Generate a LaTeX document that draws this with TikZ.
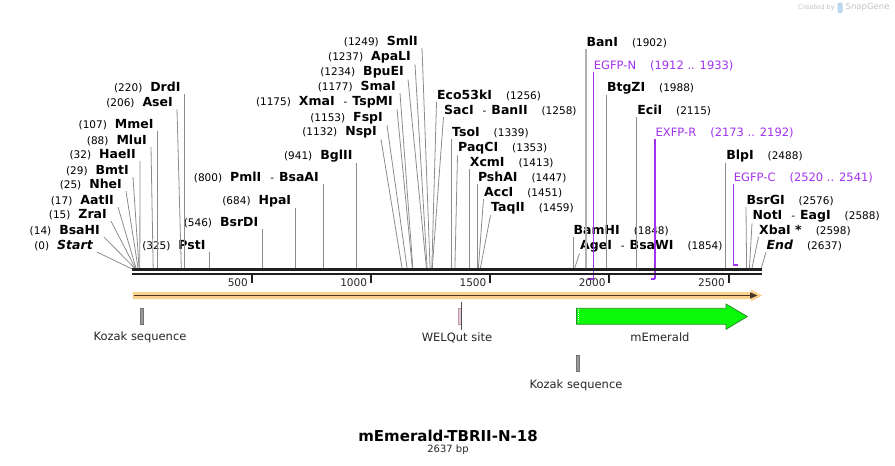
\documentclass[tikz,border=0pt]{standalone}
\usepackage{fontspec}
\setmainfont{DejaVu Sans}
\definecolor{cutgray}{RGB}{140,140,140}
\definecolor{primercol}{RGB}{160,50,240}
\definecolor{bandcol}{RGB}{250,210,140}
\definecolor{banddark}{RGB}{70,55,40}
\definecolor{emerald}{RGB}{10,250,10}
\definecolor{emeraldline}{RGB}{40,140,40}
\definecolor{logogray}{RGB}{190,196,202}
\definecolor{logoblue}{RGB}{185,215,240}
\definecolor{welqfill}{RGB}{230,200,215}
\definecolor{welqline}{RGB}{190,150,170}
\newcommand{\bpn}[1]{{\fontsize{10.5}{12}\selectfont #1}}
\newcommand{\enz}[1]{{\fontsize{12.5}{14}\selectfont\bfseries #1}}
\newcommand{\prm}[1]{{\fontsize{11.5}{13}\selectfont #1}}

\begin{document}
\begin{tikzpicture}[x=1pt, y=-1pt,
	lab/.style={anchor=base east, inner xsep=4pt, inner ysep=1.5pt, text=black},
	rlab/.style={anchor=base west, inner xsep=0.5pt, inner ysep=1.5pt, text=black},
	plab/.style={anchor=base west, inner xsep=0.5pt, inner ysep=1.5pt, text=primercol},
	cutline/.style={draw=cutgray, line width=0.8pt},
	primer/.style={draw=primercol, line width=1.1pt},
	primerbar/.style={draw=primercol, line width=2.2pt},
	backbone/.style={draw=black!88, line width=2.6pt},
	tick/.style={draw=black!88, line width=2pt},
	ticklab/.style={anchor=base east, inner sep=0pt, text=black!85, font=\fontsize{10.5}{12}\selectfont},
	featlab/.style={inner sep=0pt, text=black!85, font=\fontsize{11.5}{13}\selectfont}]

	\useasboundingbox (0,0) rectangle (895,466);

	% cut sites on the backbone
	\coordinate (s0) at (132.2,269);
	\coordinate (s14) at (135.5,269);
	\coordinate (s15) at (135.8,269);
	\coordinate (s17) at (136.3,269);
	\coordinate (s25) at (138.2,269);
	\coordinate (s29) at (139.1,269);
	\coordinate (s32) at (139.8,269);
	\coordinate (s88) at (153.2,269);
	\coordinate (s107) at (157.7,269);
	\coordinate (s206) at (181.3,269);
	\coordinate (s220) at (184.7,269);
	\coordinate (s325) at (209.7,269);
	\coordinate (s546) at (262.4,269);
	\coordinate (s684) at (295.3,269);
	\coordinate (s800) at (323.0,269);
	\coordinate (s941) at (356.6,269);
	\coordinate (s1132) at (402.2,269);
	\coordinate (s1153) at (407.2,269);
	\coordinate (s1175) at (412.4,269);
	\coordinate (s1177) at (412.9,269);
	\coordinate (s1234) at (426.5,269);
	\coordinate (s1237) at (427.2,269);
	\coordinate (s1249) at (430.1,269);
	\coordinate (s1256) at (431.8,269);
	\coordinate (s1258) at (432.2,269);
	\coordinate (s1339) at (451.5,269);
	\coordinate (s1353) at (454.9,269);
	\coordinate (s1413) at (469.2,269);
	\coordinate (s1447) at (477.3,269);
	\coordinate (s1451) at (478.3,269);
	\coordinate (s1459) at (480.2,269);
	\coordinate (s1848) at (573.0,269);
	\coordinate (s1854) at (574.4,269);
	\coordinate (s1902) at (585.8,269);
	\coordinate (s1988) at (606.3,269);
	\coordinate (s2115) at (636.6,269);
	\coordinate (s2488) at (725.6,269);
	\coordinate (s2576) at (746.6,269);
	\coordinate (s2588) at (749.4,269);
	\coordinate (s2598) at (751.8,269);
	\coordinate (s2637) at (761.1,269);

	% primer ends
	\coordinate (p1912) at (588.2,279);
	\coordinate (p1933) at (593.2,279);
	\coordinate (p2173) at (650.5,279);
	\coordinate (p2192) at (655.0,279);
	\coordinate (p2520) at (733.2,265);
	\coordinate (p2541) at (738.2,265);

	% enzymes, left side
	\node[lab] (Start) at (97,249) {\bpn{(0)}\hspace{8pt}\enz{\itshape Start}};
	\node[lab] (BsaHI) at (104,234) {\bpn{(14)}\hspace{8pt}\enz{BsaHI}};
	\node[lab] (ZraI) at (111,218) {\bpn{(15)}\hspace{8pt}\enz{ZraI}};
	\node[lab] (AatII) at (118,204) {\bpn{(17)}\hspace{8pt}\enz{AatII}};
	\node[lab] (NheI) at (126,188) {\bpn{(25)}\hspace{8pt}\enz{NheI}};
	\node[lab] (BmtI) at (133,174) {\bpn{(29)}\hspace{8pt}\enz{BmtI}};
	\node[lab] (HaeII) at (140,158) {\bpn{(32)}\hspace{8pt}\enz{HaeII}};
	\node[lab] (MluI) at (151,144) {\bpn{(88)}\hspace{8pt}\enz{MluI}};
	\node[lab] (MmeI) at (157.7,128) {\bpn{(107)}\hspace{8pt}\enz{MmeI}};
	\node[lab] (AseI) at (177,106) {\bpn{(206)}\hspace{8pt}\enz{AseI}};
	\node[lab] (DrdI) at (184.7,91) {\bpn{(220)}\hspace{8pt}\enz{DrdI}};
	\node[lab] (PstI) at (209.7,249) {\bpn{(325)}\hspace{8pt}\enz{PstI}};
	\node[lab] (BsrDI) at (262.4,226) {\bpn{(546)}\hspace{8pt}\enz{BsrDI}};
	\node[lab] (HpaI) at (295.3,204) {\bpn{(684)}\hspace{8pt}\enz{HpaI}};
	\node[lab] (PmlI) at (323,181) {\bpn{(800)}\hspace{8pt}\enz{PmlI}\hspace{9pt}\bpn{-}\hspace{5pt}\enz{BsaAI}};
	\node[lab] (BglII) at (356.6,159) {\bpn{(941)}\hspace{8pt}\enz{BglII}};
	\node[lab] (NspI) at (381,135) {\bpn{(1132)}\hspace{8pt}\enz{NspI}};
	\node[lab] (FspI) at (387,121) {\bpn{(1153)}\hspace{8pt}\enz{FspI}};
	\node[lab] (XmaI) at (397,105) {\bpn{(1175)}\hspace{8pt}\enz{XmaI}\hspace{9pt}\bpn{-}\hspace{5pt}\enz{TspMI}};
	\node[lab] (SmaI) at (400,90) {\bpn{(1177)}\hspace{8pt}\enz{SmaI}};
	\node[lab] (BpuEI) at (408,75) {\bpn{(1234)}\hspace{8pt}\enz{BpuEI}};
	\node[lab] (ApaLI) at (415,60) {\bpn{(1237)}\hspace{8pt}\enz{ApaLI}};
	\node[lab] (SmlI) at (422,45) {\bpn{(1249)}\hspace{8pt}\enz{SmlI}};

	% enzymes, right side
	\node[rlab] (Eco53kI) at (436.5,99) {\enz{Eco53kI}\hspace{14pt}\bpn{(1256)}};
	\node[rlab] (SacI) at (443.5,114) {\enz{SacI}\hspace{9pt}\bpn{-}\hspace{5pt}\enz{BanII}\hspace{14pt}\bpn{(1258)}};
	\node[rlab] (TsoI) at (451.5,136) {\enz{TsoI}\hspace{14pt}\bpn{(1339)}};
	\node[rlab] (PaqCI) at (457.5,151) {\enz{PaqCI}\hspace{14pt}\bpn{(1353)}};
	\node[rlab] (XcmI) at (469.2,166) {\enz{XcmI}\hspace{14pt}\bpn{(1413)}};
	\node[rlab] (PshAI) at (477.3,181) {\enz{PshAI}\hspace{14pt}\bpn{(1447)}};
	\node[rlab] (AccI) at (483.5,196) {\enz{AccI}\hspace{14pt}\bpn{(1451)}};
	\node[rlab] (TaqII) at (490.5,211) {\enz{TaqII}\hspace{14pt}\bpn{(1459)}};
	\node[rlab] (BamHI) at (573,234) {\enz{BamHI}\hspace{14pt}\bpn{(1848)}};
	\node[rlab] (AgeI) at (579.5,249) {\enz{AgeI}\hspace{9pt}\bpn{-}\hspace{5pt}\enz{BsaWI}\hspace{14pt}\bpn{(1854)}};
	\node[rlab] (BanI) at (585.8,46) {\enz{BanI}\hspace{14pt}\bpn{(1902)}};
	\node[rlab] (BtgZI) at (606.3,91) {\enz{BtgZI}\hspace{14pt}\bpn{(1988)}};
	\node[rlab] (EciI) at (636.6,114) {\enz{EciI}\hspace{14pt}\bpn{(2115)}};
	\node[rlab] (BlpI) at (725.6,159) {\enz{BlpI}\hspace{14pt}\bpn{(2488)}};
	\node[rlab] (BsrGI) at (746,204) {\enz{BsrGI}\hspace{14pt}\bpn{(2576)}};
	\node[rlab] (NotI) at (752,219) {\enz{NotI}\hspace{9pt}\bpn{-}\hspace{5pt}\enz{EagI}\hspace{14pt}\bpn{(2588)}};
	\node[rlab] (XbaI) at (758.5,234) {\enz{XbaI *}\hspace{14pt}\bpn{(2598)}};
	\node[rlab] (End) at (766,249) {\enz{\itshape End}\hspace{14pt}\bpn{(2637)}};

	% primers
	\node[plab] (EGFPN) at (593.2,69) {\prm{EGFP-N}\hspace{14pt}\prm{(1912 .. 1933)}};
	\node[plab] (EXFPR) at (655,136) {\prm{EXFP-R}\hspace{14pt}\prm{(2173 .. 2192)}};
	\node[plab] (EGFPC) at (733.2,181) {\prm{EGFP-C}\hspace{14pt}\prm{(2520 .. 2541)}};

	% lines to the cut sites
	\draw[cutline] (Start.south east) -- (s0);
	\draw[cutline] (BsaHI.south east) -- (s14);
	\draw[cutline] (ZraI.south east) -- (s15);
	\draw[cutline] (AatII.south east) -- (s17);
	\draw[cutline] (NheI.south east) -- (s25);
	\draw[cutline] (BmtI.south east) -- (s29);
	\draw[cutline] (HaeII.south east) -- (s32);
	\draw[cutline] (MluI.south east) -- (s88);
	\draw[cutline] (MmeI.south east) -- (s107);
	\draw[cutline] (AseI.south east) -- (s206);
	\draw[cutline] (DrdI.south east) -- (s220);
	\draw[cutline] (PstI.south east) -- (s325);
	\draw[cutline] (BsrDI.south east) -- (s546);
	\draw[cutline] (HpaI.south east) -- (s684);
	\draw[cutline] (PmlI.south east) -- (s800);
	\draw[cutline] (BglII.south east) -- (s941);
	\draw[cutline] (NspI.south east) -- (s1132);
	\draw[cutline] (FspI.south east) -- (s1153);
	\draw[cutline] (XmaI.south east) -- (s1175);
	\draw[cutline] (SmaI.south east) -- (s1177);
	\draw[cutline] (BpuEI.south east) -- (s1234);
	\draw[cutline] (ApaLI.south east) -- (s1237);
	\draw[cutline] (SmlI.south east) -- (s1249);
	\draw[cutline] (Eco53kI.south west) -- (s1256);
	\draw[cutline] (SacI.south west) -- (s1258);
	\draw[cutline] (TsoI.south west) -- (s1339);
	\draw[cutline] (PaqCI.south west) -- (s1353);
	\draw[cutline] (XcmI.south west) -- (s1413);
	\draw[cutline] (PshAI.south west) -- (s1447);
	\draw[cutline] (AccI.south west) -- (s1451);
	\draw[cutline] (TaqII.south west) -- (s1459);
	\draw[cutline] (BamHI.south west) -- (s1848);
	\draw[cutline] (AgeI.south west) -- (s1854);
	\draw[cutline, draw=black!30, line width=1.6pt] (BanI.south west) -- (s1902);
	\draw[cutline] (BtgZI.south west) -- (s1988);
	\draw[cutline] (EciI.south west) -- (s2115);
	\draw[cutline] (BlpI.south west) -- (s2488);
	\draw[cutline] (BsrGI.south west) -- (s2576);
	\draw[cutline] (NotI.south west) -- (s2588);
	\draw[cutline] (XbaI.south west) -- (s2598);
	\draw[cutline] (End.south west) -- (s2637);

	\draw[primer] (EGFPN.south west) -- (p1933);
	\draw[primerbar] (p1912) -- (p1933);
	\draw[primer] (EXFPR.south west) -- (p2192);
	\draw[primerbar] (p2173) -- (p2192);
	\draw[primer] (EGFPC.south west) -- (p2520);
	\draw[primerbar] (p2520) -- (p2541);

	% backbone and ruler
	\draw[backbone] (132.2,269.7) -- (761.5,269.7);
	\draw[backbone] (132.2,274) -- (761.5,274);
	\draw[tick] (251.5,275) -- (251.5,283);
	\draw[tick] (370.7,275) -- (370.7,283);
	\draw[tick] (490.0,275) -- (490.0,283);
	\draw[tick] (609.2,275) -- (609.2,283);
	\draw[tick] (728.5,275) -- (728.5,283);
	\node[ticklab] (t500) at (248,286.5) {500};
	\node[ticklab] (t1000) at (367.2,286.5) {1000};
	\node[ticklab] (t1500) at (486.5,286.5) {1500};
	\node[ticklab] (t2000) at (605.7,286.5) {2000};
	\node[ticklab] (t2500) at (725,286.5) {2500};

	% whole insert
	\fill[bandcol] (132.5,292) -- (751,292) -- (751,289.5) -- (762,295.5) -- (751,301.5) -- (751,299) -- (132.5,299) -- cycle;
	\draw[banddark, line width=1.4pt] (133.5,295.5) -- (751,295.5);
	\fill[banddark] (750,292.3) -- (757.5,295.5) -- (750,298.7) -- cycle;

	% features
	\draw[fill=black!40, draw=black!55, line width=0.6pt] (140.5,308.5) rectangle (143.5,324);
	\draw[fill=welqfill, draw=welqline, line width=0.6pt] (458.2,308.5) rectangle (460.8,324);
	\draw[black!70, line width=0.6pt] (460.8,302) -- (460.8,330);
	\draw[fill=emerald, draw=emeraldline, line width=0.8pt] (576.5,308.3) -- (726,308.3) -- (726,304) -- (747.3,316.5) -- (726,329.3) -- (726,324.3) -- (576.5,324.3) -- cycle;
	\draw[white, line width=1pt, dash pattern=on 1pt off 1pt] (578.5,309.3) -- (578.5,323.3);
	\draw[fill=black!40, draw=black!55, line width=0.6pt] (576,355.5) rectangle (579,371);

	\node[featlab] (kozakA) at (140,337.5) {Kozak sequence};
	\node[featlab] (welqut) at (457,337.5) {WELQut site};
	\node[featlab] (memerald) at (660,337.5) {mEmerald};
	\node[featlab] (kozakB) at (576,385) {Kozak sequence};

	% title
	\node[inner sep=0pt, font=\fontsize{15}{18}\selectfont\bfseries] (title) at (448,436) {mEmerald-TBRII-N-18};
	\node[inner sep=0pt, text=black!85, font=\fontsize{10}{12}\selectfont] (length) at (448,450) {2637 bp};

	% logo
	\node[inner sep=0pt, text=logogray, font=\fontsize{6.7}{8}\selectfont] (created) at (816.5,7.5) {Created by};
	\fill[logoblue, rounded corners=1pt] (837.5,2.5) rectangle (842.5,13);
	\node[inner sep=0pt, anchor=west, text=logogray, font=\fontsize{8.5}{10}\selectfont] (snapgene) at (845.5,7.5) {SnapGene};

\end{tikzpicture}
\end{document}
